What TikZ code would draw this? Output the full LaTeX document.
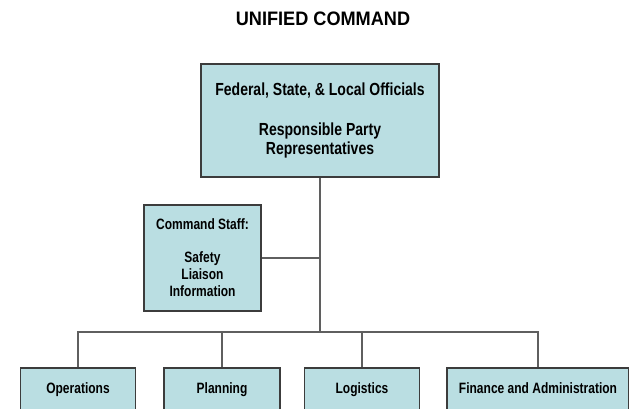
\documentclass[tikz,border=0pt]{standalone}
\usepackage{fontspec}
\setmainfont{Liberation Sans}[FakeStretch=0.8]
\newfontfamily\titlefont{Liberation Sans}[FakeStretch=0.93]
\definecolor{boxfill}{RGB}{186,222,226}
\definecolor{boxline}{RGB}{60,60,60}
\definecolor{linkgray}{RGB}{95,95,95}
\tikzset{
  orgbox/.style={draw=boxline, fill=boxfill, line width=1.3pt, align=center, inner sep=0pt,
    font=\fontsize{15}{17}\selectfont\bfseries},
  unitbox/.style={orgbox, minimum height=42pt, text height=11pt, text depth=3pt},
  link/.style={draw=linkgray, line width=1.4pt}
}
\begin{document}
\begin{tikzpicture}[x=1pt,y=-1pt]
\clip (0,0) rectangle (629,408);
\fill[white] (0,0) rectangle (629,408);
\node (title) at (323,19) {\titlefont\fontsize{19.5}{22}\selectfont\bfseries UNIFIED COMMAND};
\node[orgbox, minimum width=238pt, minimum height=113pt,
  font=\fontsize{17.5}{19}\selectfont\bfseries] (officials) at (320,120.5)
  {Federal, State, \& Local Officials\\[21pt] Responsible Party\\ Representatives};
\node[orgbox, minimum width=117pt, minimum height=106pt] (staff) at (202.5,258)
  {Command Staff:\\[16pt] Safety\\ Liaison\\ Information};
\coordinate (bus) at (320,332);
\node[unitbox, minimum width=115pt] (ops) at (78,389) {Operations};
\node[unitbox, minimum width=116pt] (plan) at (222,389) {Planning};
\node[unitbox, minimum width=115pt] (logi) at (362,389) {Logistics};
\node[unitbox, minimum width=182pt] (fin) at (538,389) {Finance and Administration};
% connectors
\draw[link] (officials.south) -- (bus);
\draw[link] (staff.east) -- (staff.east -| bus);
\draw[link] (ops.north) |- (bus) -| (fin.north);
\draw[link] (plan.north) -- (plan.north |- bus);
\draw[link] (logi.north) -- (logi.north |- bus);
\end{tikzpicture}
\end{document}
